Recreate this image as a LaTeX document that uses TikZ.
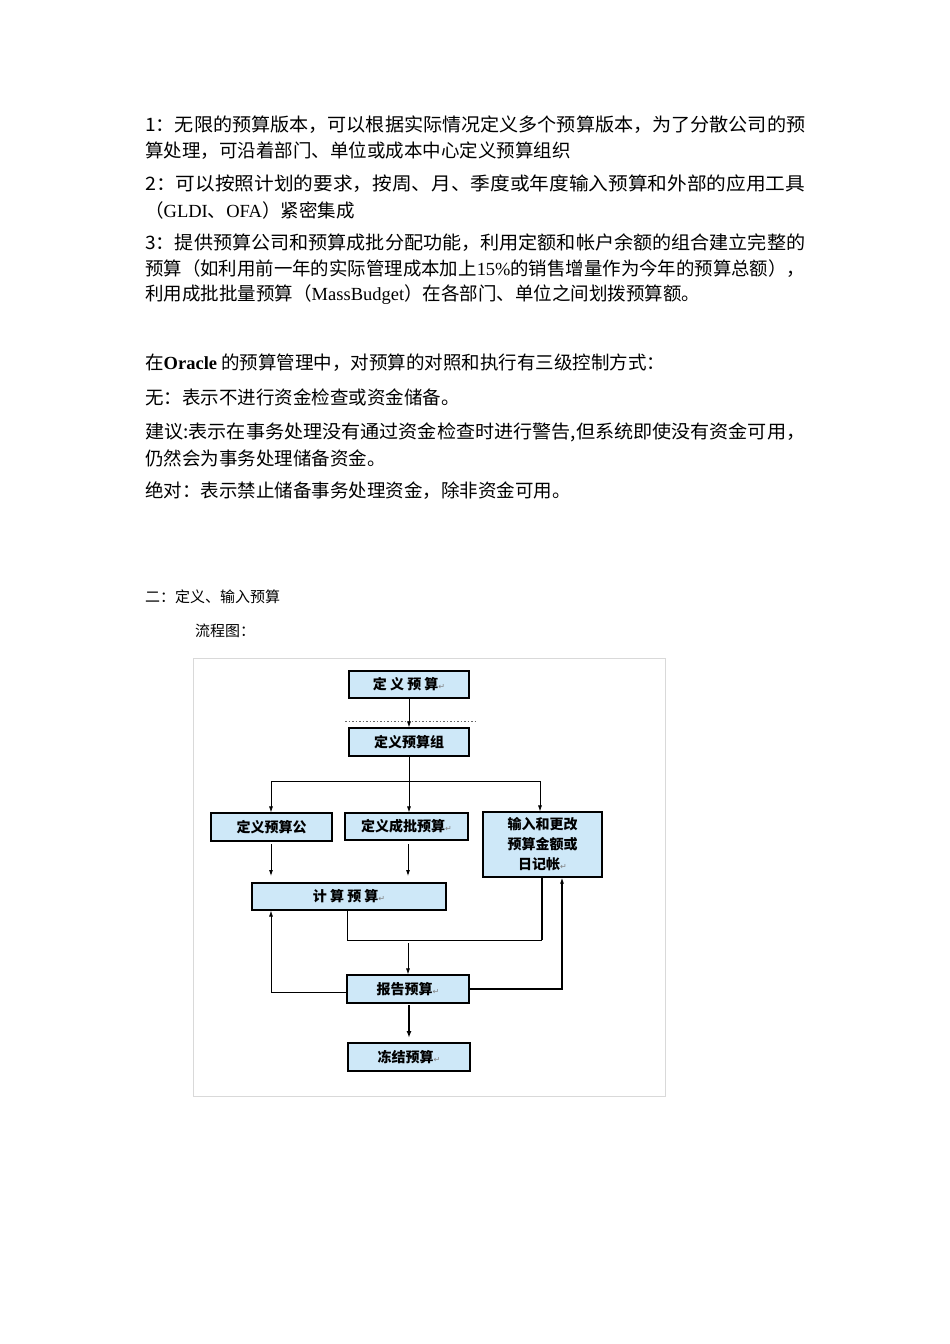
\documentclass[tikz,border=0pt]{standalone}
\usepackage{graphicx}
\usepackage{fontspec}
\setmainfont{Noto Sans CJK SC}
\newfontfamily\lat{Liberation Serif}
\newfontfamily\dejavu{DejaVu Sans}
\usetikzlibrary{arrows.meta}
\definecolor{boxfill}{RGB}{206,232,248}
\newcommand{\rt}{\textcolor{gray}{\dejavu\mdseries\fontsize{8pt}{9pt}\selectfont ↵}}
\newcommand{\fullline}[1]{\resizebox{660pt}{\height}{#1}}
\tikzset{
  body/.style={anchor=west,inner sep=0pt,font=\fontsize{18.5pt}{22pt}\selectfont},
  fbox/.style={draw=black,line width=1.1pt,fill=boxfill,inner sep=0pt,font=\bfseries\fontsize{14pt}{20pt}\selectfont,align=center},
  conn/.style={line width=0.8pt},
  arr/.style={conn,-{Latex[length=6pt,width=4pt]}},
  tarr/.style={line width=1.6pt,-{Latex[length=7pt,width=5pt]}}
}
\begin{document}
\begin{tikzpicture}[x=1pt,y=-1pt]
\useasboundingbox (0,0) rectangle (950,1344);
\node[body] (p1) at (145,125) {\fullline{1：无限的预算版本，可以根据实际情况定义多个预算版本，为了分散公司的预}};
\node[body] (p1b) at (145,151) {算处理，可沿着部门、单位或成本中心定义预算组织};
\node[body] (p2) at (145,184) {\fullline{2：可以按照计划的要求，按周、月、季度或年度输入预算和外部的应用工具}};
\node[body] (p2b) at (145,210) {（{\lat GLDI}、{\lat OFA}）紧密集成};
\node[body] (p3) at (145,243) {\fullline{3：提供预算公司和预算成批分配功能，利用定额和帐户余额的组合建立完整的}};
\node[body] (p3b) at (145,269) {\fullline{预算（如利用前一年的实际管理成本加上{\lat 15\%}的销售增量作为今年的预算总额），}};
\node[body] (p3c) at (145,295) {利用成批批量预算（{\lat MassBudget}）在各部门、单位之间划拨预算额。};
\node[body] (q0) at (145,363) {在{\lat\bfseries Oracle} 的预算管理中，对预算的对照和执行有三级控制方式：};
\node[body] (q1) at (145,397) {无：表示不进行资金检查或资金储备。};
\node[body] (q2) at (145,432) {\fullline{建议:表示在事务处理没有通过资金检查时进行警告,但系统即使没有资金可用，}};
\node[body] (q2b) at (145,458) {仍然会为事务处理储备资金。};
\node[body] (q3) at (145,491) {绝对：表示禁止储备事务处理资金，除非资金可用。};
\node[body,font=\fontsize{15pt}{18pt}\selectfont] (h2) at (145,597) {二：定义、输入预算};
\node[body,font=\fontsize{15pt}{18pt}\selectfont] (h3) at (195,631) {流程图：};
% frame
\draw[draw=black!15,line width=0.8pt] (193,658) rectangle (665,1096);
% boxes
\node[fbox,minimum width=120pt,minimum height=27pt] (b1) at (409,684.5) {定 义 预 算\rt};
\node[fbox,minimum width=120pt,minimum height=28pt] (b2) at (409,742) {定义预算组};
\node[fbox,minimum width=121pt,minimum height=28pt] (b3) at (271.5,827) {定义预算公};
\node[fbox,minimum width=123pt,minimum height=27pt] (b4) at (406.5,826.5) {定义成批预算\rt};
\node[fbox,minimum width=119pt,minimum height=65pt] (b5) at (542.5,844.5) {输入和更改\\预算金额或\\日记帐\rt};
\node[fbox,minimum width=194pt,minimum height=27pt] (b6) at (349,896.5) {计 算 预 算\rt};
\node[fbox,minimum width=122pt,minimum height=28pt] (b7) at (408,989) {报告预算\rt};
\node[fbox,minimum width=122pt,minimum height=28pt] (b8) at (409,1057) {冻结预算\rt};
% dotted line
\draw[black!60,line width=1pt,dash pattern=on 1.5pt off 2pt] (345,721) -- (477,721);
% connectors
\draw[arr] (b1.south) -- (b2.north);
\coordinate (jn) at (409,781);
\coordinate (jl) at (271,781);
\coordinate (jr) at (540,781);
\draw[conn] (b2.south) -- (jn);
\draw[conn] (jl) -- (jr);
\draw[arr] (jl) -- (b3.north -| jl);
\draw[arr] (jn) -- (b4.north -| jn);
\draw[arr] (jr) -- (b5.north -| jr);
\coordinate (a1s) at (271,844); \coordinate (a1e) at (271,876);
\coordinate (a2s) at (408,844); \coordinate (a2e) at (408,876);
\draw[arr] (a1s) -- (a1e);
\draw[arr] (a2s) -- (a2e);
\coordinate (m1) at (347,940); \coordinate (m2) at (542,940);
\draw[conn] (b6.south -| m1) -- (m1) -- (m2);
\draw[line width=1.5pt] (m2) -- (b5.south -| m2);
\coordinate (r0) at (408,943);
\draw[arr] (r0) -- (b7.north -| r0);
\coordinate (l1) at (271,992);
\draw[arr] (b7.west |- l1) -- (l1) -- (b6.south -| l1);
\coordinate (r1) at (562,989);
\draw[arr,line width=1.2pt] (b7.east |- r1) -- (r1) -- (b5.south -| r1);
\coordinate (t0) at (409,1005); \coordinate (t1) at (409,1038);
\draw[tarr] (t0) -- (t1);
\end{tikzpicture}
\end{document}
